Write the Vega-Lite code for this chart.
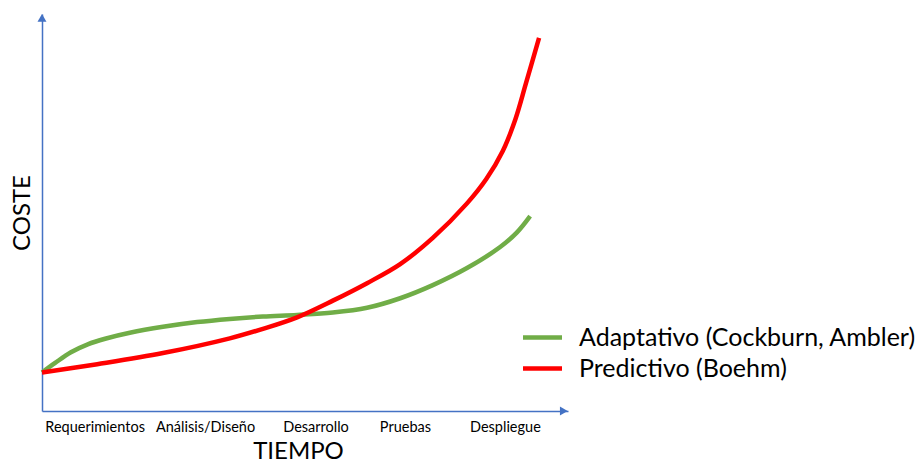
{
  "$schema": "https://vega.github.io/schema/vega-lite/v6.json",
  "autosize": {"type": "none"},
  "width": 526,
  "height": 397,
  "padding": {"left": 42, "top": 14, "right": 354, "bottom": 54},
  "background": "white",
  "config": {
    "view": {"stroke": null},
    "font": "Lato",
    "axis": {"grid": false}
  },
  "datasets": {
    "curvas": [
      {"serie": "Adaptativo (Cockburn, Ambler)", "t": 0, "c": 9.7},
      {"serie": "Adaptativo (Cockburn, Ambler)", "t": 2.5, "c": 12.1},
      {"serie": "Adaptativo (Cockburn, Ambler)", "t": 5.5, "c": 14.8},
      {"serie": "Adaptativo (Cockburn, Ambler)", "t": 8.7, "c": 16.8},
      {"serie": "Adaptativo (Cockburn, Ambler)", "t": 12.0, "c": 18.2},
      {"serie": "Adaptativo (Cockburn, Ambler)", "t": 16.7, "c": 19.7},
      {"serie": "Adaptativo (Cockburn, Ambler)", "t": 23.0, "c": 21.2},
      {"serie": "Adaptativo (Cockburn, Ambler)", "t": 29.5, "c": 22.4},
      {"serie": "Adaptativo (Cockburn, Ambler)", "t": 35.7, "c": 23.2},
      {"serie": "Adaptativo (Cockburn, Ambler)", "t": 42.0, "c": 23.8},
      {"serie": "Adaptativo (Cockburn, Ambler)", "t": 48.5, "c": 24.2},
      {"serie": "Adaptativo (Cockburn, Ambler)", "t": 55.3, "c": 24.8},
      {"serie": "Adaptativo (Cockburn, Ambler)", "t": 61.8, "c": 26.0},
      {"serie": "Adaptativo (Cockburn, Ambler)", "t": 68.1, "c": 28.4},
      {"serie": "Adaptativo (Cockburn, Ambler)", "t": 74.3, "c": 31.7},
      {"serie": "Adaptativo (Cockburn, Ambler)", "t": 80.8, "c": 36.0},
      {"serie": "Adaptativo (Cockburn, Ambler)", "t": 87.1, "c": 41.3},
      {"serie": "Adaptativo (Cockburn, Ambler)", "t": 90.3, "c": 45.0},
      {"serie": "Adaptativo (Cockburn, Ambler)", "t": 92.8, "c": 49.1},
      {"serie": "Predictivo (Boehm)", "t": 0, "c": 9.7},
      {"serie": "Predictivo (Boehm)", "t": 10.5, "c": 11.8},
      {"serie": "Predictivo (Boehm)", "t": 23.0, "c": 14.6},
      {"serie": "Predictivo (Boehm)", "t": 35.7, "c": 18.3},
      {"serie": "Predictivo (Boehm)", "t": 42.0, "c": 20.7},
      {"serie": "Predictivo (Boehm)", "t": 48.5, "c": 23.6},
      {"serie": "Predictivo (Boehm)", "t": 55.3, "c": 27.8},
      {"serie": "Predictivo (Boehm)", "t": 61.8, "c": 32.2},
      {"serie": "Predictivo (Boehm)", "t": 68.1, "c": 37.0},
      {"serie": "Predictivo (Boehm)", "t": 74.3, "c": 43.6},
      {"serie": "Predictivo (Boehm)", "t": 80.8, "c": 52.3},
      {"serie": "Predictivo (Boehm)", "t": 84.5, "c": 58.5},
      {"serie": "Predictivo (Boehm)", "t": 87.6, "c": 65.5},
      {"serie": "Predictivo (Boehm)", "t": 90.0, "c": 73.5},
      {"serie": "Predictivo (Boehm)", "t": 92.0, "c": 82.5},
      {"serie": "Predictivo (Boehm)", "t": 94.5, "c": 94.0}
    ],
    "flechas": [
      {"t": 99.2, "c": 0, "forma": "triangle-right"},
      {"t": 0, "c": 99.0, "forma": "triangle-up"}
    ]
  },
  "layer": [
    {
      "data": {"name": "curvas"},
      "mark": {"type": "line", "interpolate": "catmull-rom", "strokeWidth": 4.5, "strokeCap": "butt"},
      "encoding": {
        "x": {
          "field": "t",
          "type": "quantitative",
          "scale": {"domain": [0, 100], "nice": false, "zero": false},
          "axis": {
            "title": "TIEMPO",
            "titleFont": "Lato",
            "titleFontSize": 24,
            "titleFontWeight": "normal",
            "titleColor": "#000000",
            "titleX": 256,
            "titlePadding": 6,
            "values": [10, 31, 52, 69, 88],
            "labelExpr": "datum.value == 10 ? 'Requerimientos' : datum.value == 31 ? 'Análisis/Diseño' : datum.value == 52 ? 'Desarrollo' : datum.value == 69 ? 'Pruebas' : 'Despliegue'",
            "labelFontSize": 14.5,
            "labelColor": "#000000",
            "labelPadding": 9,
            "ticks": false,
            "domainColor": "#4472C4",
            "domainWidth": 1.5
          }
        },
        "y": {
          "field": "c",
          "type": "quantitative",
          "scale": {"domain": [0, 100], "nice": false, "zero": false},
          "axis": {
            "title": "COSTE",
            "titleFont": "Lato",
            "titleFontSize": 24,
            "titleFontWeight": "normal",
            "titleColor": "#000000",
            "titlePadding": 8,
            "labels": false,
            "ticks": false,
            "domainColor": "#4472C4",
            "domainWidth": 1.5
          }
        },
        "color": {
          "field": "serie",
          "type": "nominal",
          "scale": {
            "domain": ["Adaptativo (Cockburn, Ambler)", "Predictivo (Boehm)"],
            "range": ["#70AD47", "#FF0000"]
          },
          "legend": {
            "title": null,
            "orient": "none",
            "legendX": 483,
            "legendY": 306,
            "symbolType": "M-1.3,0L1.3,0",
            "symbolSize": 900,
            "symbolStrokeWidth": 4.5,
            "labelFontSize": 25,
            "labelFont": "Lato",
            "labelColor": "#000000",
            "labelOffset": 19,
            "rowPadding": -2,
            "labelLimit": 420
          }
        }
      }
    },
    {
      "data": {"name": "flechas"},
      "mark": {"type": "point", "filled": true, "size": 80, "color": "#4472C4", "opacity": 1},
      "encoding": {
        "x": {"field": "t", "type": "quantitative"},
        "y": {"field": "c", "type": "quantitative"},
        "shape": {"field": "forma", "type": "nominal", "scale": null}
      }
    }
  ]
}
